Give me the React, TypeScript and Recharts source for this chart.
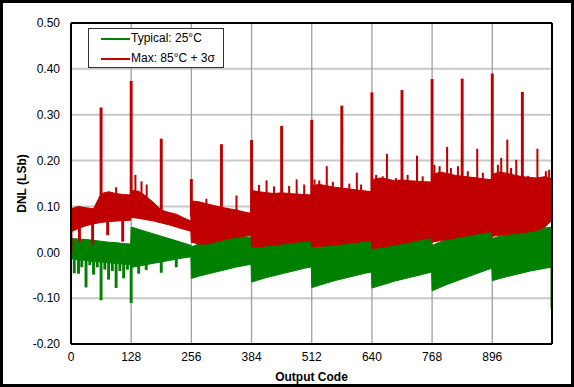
import {
  ComposedChart,
  Area,
  Bar,
  Cell,
  XAxis,
  YAxis,
  CartesianGrid,
  ReferenceLine,
  Legend,
} from 'recharts'

const GREEN = '#008000'
const RED = '#c00000'
const FONT = '"Liberation Sans", Arial, sans-serif'

// band samples (codes) - envelope of the dense DNL traces
const codes = [
  0, 16, 32, 48, 64, 80, 96, 112, 127,
  128, 144, 160, 176, 192, 208, 224, 240, 255,
  256, 272, 288, 304, 320, 336, 352, 368, 383,
  384, 400, 416, 432, 448, 464, 480, 496, 511,
  512, 528, 544, 560, 576, 592, 608, 624, 639,
  640, 656, 672, 688, 704, 720, 736, 752, 767,
  768, 784, 800, 816, 832, 848, 864, 880, 895,
  896, 912, 928, 944, 960, 976, 992, 1008, 1023,
]

const typicalHigh = [
  0.030, 0.029, 0.028, 0.026, 0.024, 0.022, 0.021, 0.019, 0.018,
  0.055, 0.050, 0.045, 0.040, 0.035, 0.030, 0.025, 0.020, 0.015,
  0.012, 0.018, 0.024, 0.030, 0.035, 0.036, 0.035, 0.034, 0.033,
  0.012, 0.018, 0.023, 0.027, 0.030, 0.032, 0.034, 0.035, 0.036,
  0.012, 0.016, 0.019, 0.022, 0.024, 0.026, 0.027, 0.028, 0.030,
  0.008, 0.015, 0.021, 0.027, 0.032, 0.036, 0.039, 0.042, 0.044,
  0.015, 0.022, 0.028, 0.034, 0.039, 0.043, 0.046, 0.049, 0.051,
  0.030, 0.035, 0.039, 0.043, 0.046, 0.049, 0.051, 0.053, 0.055,
]

const typicalLow = [
  -0.014, -0.016, -0.018, -0.020, -0.021, -0.023, -0.024, -0.026, -0.027,
  -0.033, -0.030, -0.027, -0.024, -0.021, -0.018, -0.015, -0.012, -0.010,
  -0.057, -0.052, -0.048, -0.044, -0.040, -0.036, -0.032, -0.029, -0.026,
  -0.065, -0.060, -0.055, -0.051, -0.047, -0.043, -0.039, -0.035, -0.032,
  -0.077, -0.072, -0.067, -0.062, -0.058, -0.054, -0.050, -0.046, -0.043,
  -0.078, -0.073, -0.068, -0.063, -0.059, -0.055, -0.051, -0.047, -0.043,
  -0.084, -0.077, -0.070, -0.064, -0.058, -0.052, -0.046, -0.040, -0.035,
  -0.062, -0.057, -0.053, -0.049, -0.045, -0.041, -0.038, -0.035, -0.032,
]

const maxHigh = [
  0.095, 0.100, 0.097, 0.095, 0.128, 0.132, 0.128, 0.126, 0.125,
  0.135, 0.133, 0.122, 0.108, 0.092, 0.087, 0.083, 0.075, 0.068,
  0.112, 0.110, 0.106, 0.102, 0.098, 0.095, 0.092, 0.088, 0.085,
  0.135, 0.132, 0.130, 0.128, 0.130, 0.128, 0.127, 0.126, 0.125,
  0.145, 0.148, 0.145, 0.142, 0.140, 0.138, 0.136, 0.134, 0.132,
  0.158, 0.162, 0.160, 0.156, 0.158, 0.156, 0.155, 0.154, 0.153,
  0.168, 0.175, 0.172, 0.168, 0.166, 0.164, 0.162, 0.160, 0.158,
  0.170, 0.175, 0.172, 0.168, 0.165, 0.163, 0.162, 0.165, 0.160,
]

const maxLow = [
  0.045, 0.052, 0.058, 0.062, 0.065, 0.067, 0.068, 0.069, 0.070,
  0.076, 0.074, 0.071, 0.068, 0.064, 0.060, 0.055, 0.050, 0.046,
  0.022, 0.018, 0.018, 0.022, 0.026, 0.030, 0.033, 0.035, 0.037,
  0.012, 0.012, 0.014, 0.016, 0.018, 0.020, 0.022, 0.024, 0.026,
  0.012, 0.013, 0.014, 0.016, 0.018, 0.020, 0.022, 0.024, 0.026,
  0.008, 0.010, 0.013, 0.016, 0.019, 0.022, 0.026, 0.029, 0.032,
  0.022, 0.025, 0.028, 0.031, 0.034, 0.037, 0.040, 0.043, 0.045,
  0.035, 0.037, 0.039, 0.041, 0.043, 0.045, 0.048, 0.055, 0.070,
]

// big spikes of the max trace
const spikeCodes = [64, 128, 192, 256, 320, 384, 448, 512, 576, 640, 704, 768, 832, 896, 960]
const spikeTops = [0.313, 0.371, 0.245, 0.157, 0.233, 0.242, 0.273, 0.286, 0.317, 0.346, 0.351, 0.375, 0.376, 0.387, 0.347]

// smaller streaks of the max trace
const streakCodes = [
  96, 137, 150, 161, 288, 352, 400, 416, 432, 464, 480, 496, 518, 528, 544, 557,
  592, 608, 617, 649, 663, 672, 691, 716, 736, 748, 773, 784, 800, 808, 823, 844,
  864, 876, 908, 915, 928, 936, 947, 972, 992, 1010, 1017,
]
const streakTops = [
  0.140, 0.167, 0.153, 0.146, 0.115, 0.122, 0.145, 0.155, 0.142, 0.143, 0.157, 0.146, 0.157, 0.155, 0.186, 0.152,
  0.148, 0.172, 0.146, 0.167, 0.164, 0.213, 0.160, 0.167, 0.209, 0.164, 0.189, 0.186, 0.228, 0.182, 0.186, 0.175,
  0.224, 0.172, 0.189, 0.204, 0.244, 0.182, 0.200, 0.165, 0.224, 0.175, 0.178,
]

// downward dips of the max trace
const dipCodes = [0, 18, 46, 78, 110]
const dipLows = [0.0, 0.026, 0.019, 0.04, 0.026]

// downward spikes of the typical trace
const typicalSpikeCodes = [7, 16, 23, 32, 40, 48, 56, 64, 72, 80, 88, 96, 104, 112, 120, 128, 144, 160, 192, 224, 1023]
const typicalSpikeLows = [
  -0.043, -0.044, -0.030, -0.074, -0.025, -0.046, -0.030, -0.102, -0.035, -0.057, -0.038,
  -0.075, -0.038, -0.054, -0.035, -0.108, -0.044, -0.036, -0.042, -0.030, -0.120,
]

const xTicks = [0, 128, 256, 384, 512, 640, 768, 896]
const yTicks = [-0.2, -0.1, 0, 0.1, 0.2, 0.3, 0.4, 0.5]

const RED_BASE = 0.08
const GREEN_BASE = 0

type Row = {
  code: number
  typ: (number | null)[]
  max: (number | null)[]
  spike?: number[]
  spikeColor?: string
  streak?: number[]
}

const EMPTY = [null, null]
const rows: Row[] = []
codes.forEach((c, i) =>
  rows.push({ code: c, typ: [typicalLow[i], typicalHigh[i]], max: [maxLow[i], maxHigh[i]] })
)
spikeCodes.forEach((c, i) =>
  rows.push({ code: c, typ: EMPTY, max: EMPTY, spike: [RED_BASE, spikeTops[i]], spikeColor: RED })
)
dipCodes.forEach((c, i) =>
  rows.push({ code: c, typ: EMPTY, max: EMPTY, spike: [dipLows[i], RED_BASE], spikeColor: RED })
)
typicalSpikeCodes.forEach((c, i) =>
  rows.push({ code: c, typ: EMPTY, max: EMPTY, spike: [typicalSpikeLows[i], GREEN_BASE], spikeColor: GREEN })
)
streakCodes.forEach((c, i) =>
  rows.push({ code: c, typ: EMPTY, max: EMPTY, streak: [RED_BASE, streakTops[i]] })
)
rows.sort((a, b) => a.code - b.code)

const LegendBox = () => (
  <div
    style={{
      position: 'relative',
      width: 136,
      height: 40,
      boxSizing: 'border-box',
      border: '1px solid #333',
      background: '#fff',
      fontFamily: FONT,
      fontSize: 12,
      color: '#000',
    }}
  >
    {[
      { name: 'Typical: 25°C', color: GREEN, top: 9 },
      { name: 'Max: 85°C + 3σ', color: RED, top: 29 },
    ].map((item) => (
      <div key={item.name}>
        <div
          style={{
            position: 'absolute',
            left: 12,
            top: item.top,
            width: 29,
            height: 2,
            background: item.color,
          }}
        />
        <div style={{ position: 'absolute', left: 42, top: item.top - 7, lineHeight: '15px', whiteSpace: 'nowrap' }}>
          {item.name}
        </div>
      </div>
    ))}
  </div>
)

export default function App() {
  const tick = { fill: '#000', fontSize: 12, fontFamily: FONT }
  return (
    <div style={{ position: 'absolute', left: 0, top: 0, width: 574, height: 387, background: '#fff' }}>
      <ComposedChart
        width={574}
        height={387}
        data={rows}
        margin={{ top: 23, right: 22, bottom: 0, left: 0 }}
      >
        <CartesianGrid horizontal vertical={false} stroke="#c8c8c8" strokeWidth={2} />
        <CartesianGrid horizontal={false} vertical stroke="#a0a0a0" strokeWidth={1.3} />
        <XAxis
          dataKey="code"
          type="number"
          domain={[0, 1023]}
          ticks={xTicks}
          allowDataOverflow
          height={43}
          tickSize={0}
          tickMargin={8}
          tick={tick}
          axisLine={{ stroke: '#000', strokeWidth: 2 }}
          label={{
            value: 'Output Code',
            position: 'insideBottom',
            offset: 6,
            style: { fontWeight: 'bold', fontSize: 12, fontFamily: FONT, fill: '#000' },
          }}
        />
        <XAxis xAxisId="streaks" dataKey="code" type="number" domain={[0, 1023]} allowDataOverflow hide />
        <YAxis
          type="number"
          domain={[-0.2, 0.5]}
          ticks={yTicks}
          allowDataOverflow
          width={71}
          tickSize={0}
          tickMargin={11}
          tick={tick}
          tickFormatter={(v: number) => v.toFixed(2)}
          axisLine={{ stroke: '#000', strokeWidth: 2 }}
          label={{
            value: 'DNL (LSb)',
            angle: -90,
            position: 'insideLeft',
            offset: 22,
            style: { fontWeight: 'bold', fontSize: 12, fontFamily: FONT, fill: '#000', textAnchor: 'middle' },
          }}
        />
        <Area
          dataKey="typ"
          type="linear"
          stroke={GREEN}
          strokeWidth={1}
          fill={GREEN}
          fillOpacity={1}
          connectNulls
          dot={false}
          activeDot={false}
          isAnimationActive={false}
        />
        <Area
          dataKey="max"
          type="linear"
          stroke={RED}
          strokeWidth={1}
          fill={RED}
          fillOpacity={1}
          connectNulls
          dot={false}
          activeDot={false}
          isAnimationActive={false}
        />
        <Bar dataKey="spike" barSize={3} strokeWidth={2.5} isAnimationActive={false}>
          {rows.map((r, i) => (
            <Cell key={`s-${i}`} fill={r.spikeColor ?? RED} stroke={r.spikeColor ?? RED} />
          ))}
        </Bar>
        <Bar
          dataKey="streak"
          xAxisId="streaks"
          barSize={2}
          fill={RED}
          stroke={RED}
          strokeWidth={1.6}
          isAnimationActive={false}
        />
        <ReferenceLine y={0.5} stroke="#000" strokeWidth={2} />
        <ReferenceLine x={1023} stroke="#000" strokeWidth={2} />
        <Legend
          layout="horizontal"
          verticalAlign="middle"
          align="center"
          wrapperStyle={{ left: 88, top: 28, width: 136, height: 40 }}
          content={() => <LegendBox />}
        />
      </ComposedChart>
      <div
        style={{
          position: 'absolute',
          left: 0,
          top: 0,
          width: 574,
          height: 387,
          boxSizing: 'border-box',
          border: '3px solid #000',
          pointerEvents: 'none',
        }}
      />
    </div>
  )
}
